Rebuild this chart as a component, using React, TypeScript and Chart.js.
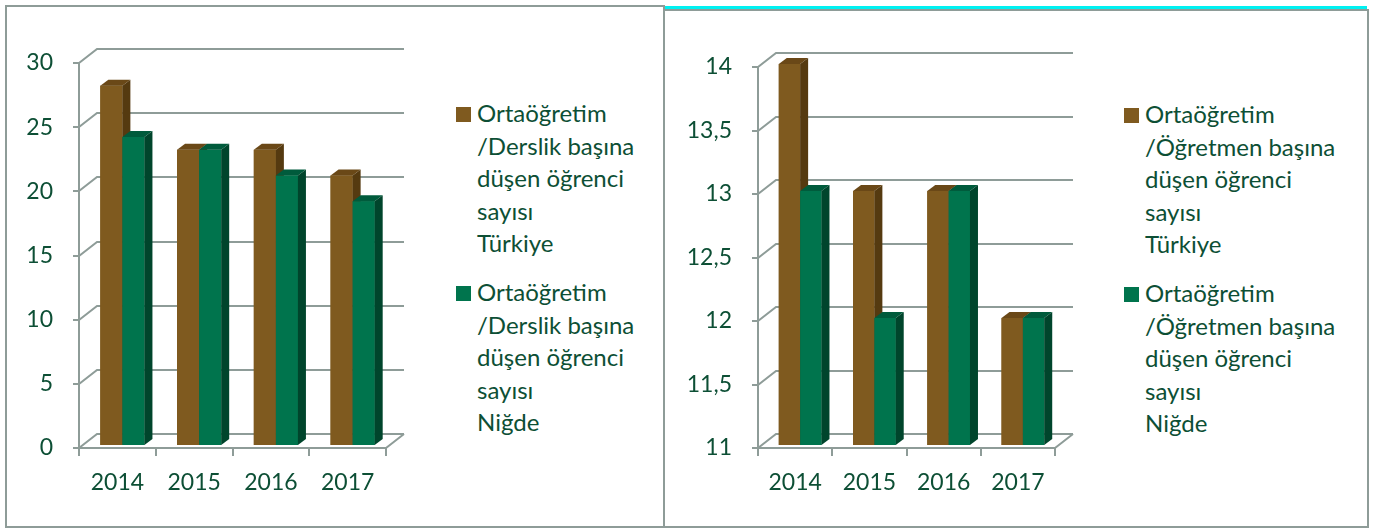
import React, { useEffect, useRef } from 'react';
import { Chart, registerables } from 'chart.js';

Chart.register(...registerables);

// ---------- DATA ----------
const years = ['2014', '2015', '2016', '2017'];

const derslikTurkiye = [28, 23, 23, 21];
const derslikNigde = [24, 23, 21, 19];

const ogretmenTurkiye = [14, 13, 13, 12];
const ogretmenNigde = [13, 12, 13, 12];

const derslikAxis = { min: 0, max: 30, step: 5 };
const ogretmenAxis = { min: 11, max: 14, step: 0.5 };

const derslikLegendTurkiye = ['Ortaöğretim', '/Derslik başına', 'düşen öğrenci', 'sayısı', 'Türkiye'];
const derslikLegendNigde = ['Ortaöğretim', '/Derslik başına', 'düşen öğrenci', 'sayısı', 'Niğde'];
const ogretmenLegendTurkiye = ['Ortaöğretim', '/Öğretmen başına', 'düşen öğrenci', 'sayısı', 'Türkiye'];
const ogretmenLegendNigde = ['Ortaöğretim', '/Öğretmen başına', 'düşen öğrenci', 'sayısı', 'Niğde'];

// ---------- STYLE ----------
const FRONT = ['#7F5A1F', '#00744D'];
const TOP = ['#6A4817', '#005B3C'];
const SIDE = ['#553A10', '#00452C'];
const TEXT = '#0D4F35';
const GRID = '#8E9C98';
const FONT = 'Lato, "Open Sans", sans-serif';

const WALL_DX = 18;
const WALL_DY = -14;
const BAR_DX = 8;
const BAR_DY = -6;
const BAR_SHIFT_X = 5;
const BAR_SHIFT_Y = -3;

const fake3d = {
  id: 'fake3d',
  beforeDatasetsDraw(chart: any) {
    const { ctx, chartArea, scales } = chart;
    const { left, right, bottom } = chartArea;
    const y = scales.y;
    const x = scales.x;
    ctx.save();
    ctx.strokeStyle = GRID;
    ctx.lineWidth = 2;
    y.ticks.forEach((t: any) => {
      const py = Math.round(y.getPixelForValue(t.value));
      ctx.beginPath();
      ctx.moveTo(left - 6, py);
      ctx.lineTo(left, py);
      ctx.lineTo(left + WALL_DX, py + WALL_DY);
      ctx.lineTo(right + WALL_DX, py + WALL_DY);
      ctx.stroke();
    });
    ctx.beginPath();
    ctx.moveTo(left, Math.round(y.getPixelForValue(y.max)));
    ctx.lineTo(left, bottom);
    ctx.lineTo(right, bottom);
    ctx.lineTo(right + WALL_DX, bottom + WALL_DY);
    ctx.stroke();
    const n = x.ticks.length;
    ctx.beginPath();
    for (let i = 0; i <= n; i++) {
      const px = Math.round(left + ((right - left) * i) / n);
      ctx.moveTo(px, bottom);
      ctx.lineTo(px, bottom + 8);
    }
    ctx.stroke();
    ctx.restore();
    ctx.save();
    ctx.translate(BAR_SHIFT_X, BAR_SHIFT_Y);
  },
  afterDatasetsDraw(chart: any) {
    const ctx = chart.ctx;
    const metas = chart.data.datasets.map((_: any, i: number) => chart.getDatasetMeta(i));
    const count = chart.data.labels.length;
    for (let j = 0; j < count; j++) {
      metas.forEach((meta: any, d: number) => {
        const bar = meta.data[j];
        if (!bar) return;
        const { x, y, width, base } = bar.getProps(['x', 'y', 'width', 'base'], true);
        const l = x - width / 2;
        const r = x + width / 2;
        ctx.fillStyle = FRONT[d];
        ctx.fillRect(l, y, width, base - y);
        ctx.fillStyle = TOP[d];
        ctx.beginPath();
        ctx.moveTo(l, y);
        ctx.lineTo(l + BAR_DX, y + BAR_DY);
        ctx.lineTo(r + BAR_DX, y + BAR_DY);
        ctx.lineTo(r, y);
        ctx.closePath();
        ctx.fill();
        ctx.fillStyle = SIDE[d];
        ctx.beginPath();
        ctx.moveTo(r, y);
        ctx.lineTo(r + BAR_DX, y + BAR_DY);
        ctx.lineTo(r + BAR_DX, base + BAR_DY);
        ctx.lineTo(r, base);
        ctx.closePath();
        ctx.fill();
      });
    }
    ctx.restore();
  },
};

type PanelProps = {
  canvasLeft: number;
  canvasWidth: number;
  axisWidth: number;
  padRight: number;
  padTop: number;
  seriesA: number[];
  seriesB: number[];
  labelA: string;
  labelB: string;
  axis: { min: number; max: number; step: number };
};

function BarPanel(p: PanelProps) {
  const ref = useRef<HTMLCanvasElement | null>(null);
  useEffect(() => {
    if (!ref.current) return;
    const chart = new Chart(ref.current, {
      type: 'bar',
      data: {
        labels: years,
        datasets: [
          { label: p.labelA, data: p.seriesA, base: p.axis.min, backgroundColor: FRONT[0], borderWidth: 0, clip: false } as any,
          { label: p.labelB, data: p.seriesB, base: p.axis.min, backgroundColor: FRONT[1], borderWidth: 0, clip: false } as any,
        ],
      },
      options: {
        responsive: false,
        animation: false,
        devicePixelRatio: 1,
        layout: { padding: { left: 0, right: p.padRight, top: p.padTop, bottom: 0 } },
        datasets: { bar: { categoryPercentage: 0.575, barPercentage: 1 } },
        plugins: { legend: { display: false }, tooltip: { enabled: false } },
        scales: {
          x: {
            grid: { display: false, drawTicks: false },
            border: { display: false },
            ticks: { color: TEXT, font: { family: FONT, size: 23 }, padding: 21, maxRotation: 0 },
            afterFit: (s: any) => {
              s.height = 529 - 448;
            },
          },
          y: {
            min: p.axis.min,
            max: p.axis.max,
            grid: { display: false, drawTicks: false },
            border: { display: false },
            ticks: {
              stepSize: p.axis.step,
              color: TEXT,
              font: { family: FONT, size: 23 },
              padding: 26,
              callback: (v: any) => String(v).replace('.', ','),
            },
            afterFit: (s: any) => {
              s.width = p.axisWidth;
            },
          },
        },
      },
      plugins: [fake3d as any],
    });
    return () => chart.destroy();
  }, []);
  return (
    <canvas
      ref={ref}
      width={p.canvasWidth}
      height={529}
      style={{ position: 'absolute', left: p.canvasLeft, top: 0, width: p.canvasWidth, height: 529 }}
    />
  );
}

function Legend({ left, top, color, lines }: { left: number; top: number; color: string; lines: string[] }) {
  return (
    <div style={{ position: 'absolute', left, top, fontFamily: FONT, fontSize: 24, lineHeight: '32.5px', color: TEXT }}>
      <div style={{ position: 'absolute', left: 0, top: 10, width: 15, height: 15, background: color }} />
      <div style={{ position: 'absolute', left: 21, top: 0, whiteSpace: 'nowrap' }}>
        {lines.map((s, i) => (
          <div key={i}>{s}</div>
        ))}
      </div>
    </div>
  );
}

export default function App() {
  return (
    <div style={{ position: 'absolute', left: 0, top: 0, width: 1378, height: 529, background: '#fff', overflow: 'hidden' }}>
      {/* panel frames */}
      <div style={{ position: 'absolute', left: 5, top: 5, width: 660, height: 2, background: GRID }} />
      <div style={{ position: 'absolute', left: 5, top: 5, width: 2, height: 523, background: GRID }} />
      <div style={{ position: 'absolute', left: 5, top: 526, width: 1364, height: 2, background: GRID }} />
      <div style={{ position: 'absolute', left: 663, top: 5, width: 2, height: 523, background: GRID }} />
      <div style={{ position: 'absolute', left: 665, top: 6, width: 702, height: 3, background: '#00F0F0' }} />
      <div style={{ position: 'absolute', left: 665, top: 9, width: 704, height: 2, background: GRID }} />
      <div style={{ position: 'absolute', left: 1367, top: 9, width: 2, height: 519, background: GRID }} />

      <BarPanel
        canvasLeft={0}
        canvasWidth={440}
        axisWidth={79}
        padRight={440 - 386}
        padTop={63}
        seriesA={derslikTurkiye}
        seriesB={derslikNigde}
        labelA={derslikLegendTurkiye.join(' ')}
        labelB={derslikLegendNigde.join(' ')}
        axis={derslikAxis}
      />
      <BarPanel
        canvasLeft={680}
        canvasWidth={420}
        axisWidth={78}
        padRight={1100 - 1055}
        padTop={67}
        seriesA={ogretmenTurkiye}
        seriesB={ogretmenNigde}
        labelA={ogretmenLegendTurkiye.join(' ')}
        labelB={ogretmenLegendNigde.join(' ')}
        axis={ogretmenAxis}
      />

      <Legend left={456} top={97} color={FRONT[0]} lines={derslikLegendTurkiye} />
      <Legend left={456} top={276} color={FRONT[1]} lines={derslikLegendNigde} />
      <Legend left={1124} top={98} color={FRONT[0]} lines={ogretmenLegendTurkiye} />
      <Legend left={1124} top={277} color={FRONT[1]} lines={ogretmenLegendNigde} />
    </div>
  );
}
